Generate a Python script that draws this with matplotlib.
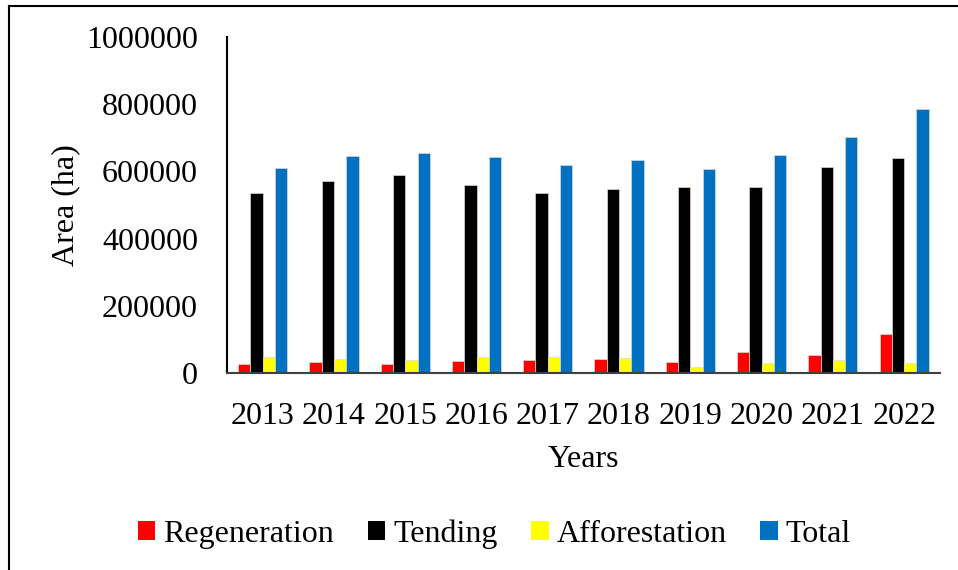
import numpy as np
from matplotlib import pyplot as plt
from matplotlib.lines import Line2D
from matplotlib.patches import Patch

# Areas per year, hectares
years = ['2013', '2014', '2015', '2016', '2017', '2018', '2019', '2020', '2021', '2022']
regeneration = [27000, 34000, 28000, 35000, 39000, 42000, 34000, 63000, 53000, 117000]
tending = [535000, 570000, 588000, 560000, 535000, 549000, 554000, 555000, 613000, 639000]
afforestation = [47000, 41000, 40000, 48000, 47000, 46000, 19000, 29000, 38000, 31000]
total = [609000, 645000, 656000, 643000, 620000, 635000, 606000, 648000, 701000, 786000]

series_names = ['Regeneration', 'Tending', 'Afforestation', 'Total']
series_values = [regeneration, tending, afforestation, total]
series_colors = ['#FF0000', '#000000', '#FFFF00', '#0070C0']
y_ticks = [0, 200000, 400000, 600000, 800000, 1000000]

plt.rcParams['font.family'] = ['Liberation Serif', 'DejaVu Serif']
FS = 23

fig = plt.figure(figsize=(9.58, 5.70), dpi=100, facecolor='white')
ax = fig.add_axes([0.237, 0.3456, 0.744, 0.5895])

x = np.arange(len(years))
w = 0.1725
for i, (vals, col) in enumerate(zip(series_values, series_colors)):
    ax.bar(x + (i - 1.5) * w, vals, width=w, color=col,
           edgecolor='#d9d9d9', linewidth=0.5, zorder=2)

ax.set_xlim(-0.5, len(years) - 0.5)
ax.set_ylim(0, 1000000)
ax.set_yticks(y_ticks)
ax.set_yticklabels([str(v) for v in y_ticks])
ax.set_xticks(x)
ax.set_xticklabels(years)
ax.tick_params(axis='both', length=0, labelsize=FS)
ax.tick_params(axis='y', pad=21)
ax.tick_params(axis='x', pad=21)

for side in ['top', 'right']:
    ax.spines[side].set_visible(False)
ax.spines['left'].set_linewidth(1.5)
ax.spines['bottom'].set_linewidth(1.5)
ax.spines['bottom'].set_color('#404040')

ax.set_xlabel('Years', fontsize=FS, labelpad=10)
ax.set_ylabel('Area (ha)', fontsize=FS, labelpad=4)

handles = [Patch(facecolor=c, edgecolor='none') for c in series_colors]
fig.legend(handles, series_names, loc='center', bbox_to_anchor=(0.516, 0.063),
           ncol=4, frameon=False, fontsize=FS, handlelength=0.55, handleheight=0.55,
           handletextpad=0.25, columnspacing=1.05)

# outer frame: left and top edges only
fig.add_artist(Line2D([9 / 958, 9 / 958], [0, 1 - 6 / 570], transform=fig.transFigure,
                      color='black', linewidth=1.5))
fig.add_artist(Line2D([9 / 958, 1], [1 - 6 / 570, 1 - 6 / 570], transform=fig.transFigure,
                      color='black', linewidth=1.5))

plt.savefig('out.png', dpi=100, facecolor='white')
plt.close()
